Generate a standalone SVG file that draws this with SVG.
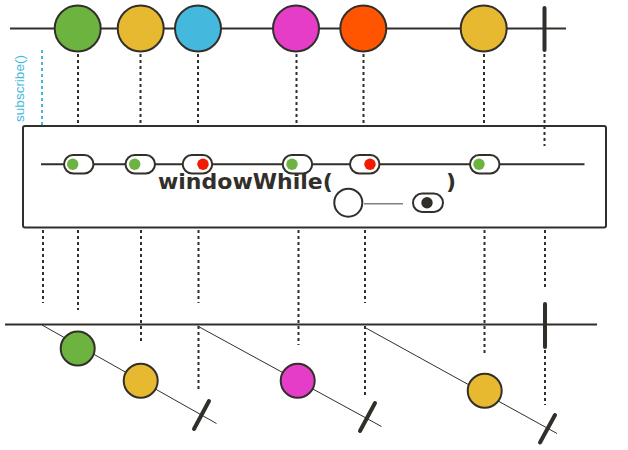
<svg xmlns="http://www.w3.org/2000/svg" width="628" height="450" viewBox="0 0 628 450">
<style>
.ln{stroke:#322f2b;stroke-width:2;fill:none}
.thin{stroke:#322f2b;stroke-width:1;fill:none}
.dash{stroke:#322f2b;stroke-width:2;stroke-dasharray:3 3;fill:none}
.term{stroke:#322f2b;stroke-width:4;stroke-linecap:round;fill:none}
.big{stroke:#322f2b;stroke-width:2}
.pill{fill:#fff;stroke:#322f2b;stroke-width:2}
.lbl{font-family:"DejaVu Sans",sans-serif;font-weight:bold;font-size:22px;fill:#322f2b}
</style>
<rect width="628" height="450" fill="#fff"/>
<g id="connectors">
  <line class="ln" x1="10" y1="28.5" x2="566" y2="28.5"/>
  <line class="term" x1="544.5" y1="8" x2="544.5" y2="50"/>
  <line x1="42" y1="50" x2="42" y2="125" stroke="#45b8de" stroke-width="2" stroke-dasharray="3 3"/>
  <line class="dash" x1="78" y1="54" x2="78" y2="126"/>
  <line class="dash" x1="140.5" y1="54" x2="140.5" y2="126"/>
  <line class="dash" x1="198" y1="54" x2="198" y2="126"/>
  <line class="dash" x1="296.5" y1="54" x2="296.5" y2="126"/>
  <line class="dash" x1="363.5" y1="54" x2="363.5" y2="126"/>
  <line class="dash" x1="484" y1="54" x2="484" y2="126"/>
  <line class="dash" x1="544.5" y1="54" x2="544.5" y2="146"/>
  <line class="dash" x1="43" y1="230" x2="43" y2="303"/>
  <line class="dash" x1="78" y1="230" x2="78" y2="310"/>
  <line class="dash" x1="141" y1="230" x2="141" y2="343"/>
  <line class="dash" x1="198.5" y1="230" x2="198.5" y2="303"/>
  <line class="dash" x1="198.5" y1="326" x2="198.5" y2="390"/>
  <line class="dash" x1="298.5" y1="230" x2="298.5" y2="345"/>
  <line class="dash" x1="365" y1="230" x2="365" y2="303"/>
  <line class="dash" x1="365" y1="326" x2="365" y2="397"/>
  <line class="dash" x1="484.5" y1="230" x2="484.5" y2="353"/>
  <line class="dash" x1="545" y1="230" x2="545" y2="287"/>
  <line class="dash" x1="545" y1="350" x2="545" y2="405"/>
  <line class="ln" x1="5" y1="324.5" x2="597" y2="324.5"/>
  <line class="term" x1="545" y1="304" x2="545" y2="347"/>
  <line class="thin" x1="42" y1="325" x2="216.5" y2="423.5"/>
  <line class="thin" x1="197.5" y1="326" x2="381.5" y2="426.5"/>
  <line class="thin" x1="365" y1="327.5" x2="557" y2="433.5"/>
  <line class="term" x1="194" y1="429" x2="209" y2="401"/>
  <line class="term" x1="360" y1="431" x2="375" y2="403"/>
  <line class="term" x1="540" y1="442.5" x2="555" y2="415"/>
</g>
<g id="source">
  <circle class="big" cx="77.7" cy="28.5" r="23" fill="#6db33f"/>
  <circle class="big" cx="140.7" cy="28.5" r="23" fill="#e6b930"/>
  <circle class="big" cx="198" cy="28.5" r="23" fill="#45b8de"/>
  <circle class="big" cx="296" cy="28.5" r="23" fill="#e63dc8"/>
  <circle class="big" cx="363.3" cy="28.5" r="23" fill="#ff5500"/>
  <circle class="big" cx="483.7" cy="28.5" r="23" fill="#e6b930"/>
</g>
<g id="subscribe">
  <text transform="translate(23.5,88.5) rotate(-90)" text-anchor="middle" font-family="Liberation Sans, Arial, sans-serif" font-size="13.5" fill="#45b8de">subscribe()</text>
</g>
<g id="operator">
  <rect x="23" y="126" width="583" height="101.5" rx="2" class="ln" fill="#fff"/>
  <line class="ln" x1="41" y1="164.3" x2="584.5" y2="164.3"/>
  <rect class="pill" x="64" y="155" width="29.5" height="18.5" rx="9.25"/>
  <circle cx="72.7" cy="164.3" r="5.7" fill="#6db33f"/>
  <rect class="pill" x="125.5" y="155" width="29.5" height="18.5" rx="9.25"/>
  <circle cx="134.7" cy="164.3" r="5.7" fill="#6db33f"/>
  <rect class="pill" x="182.7" y="155" width="29.5" height="18.5" rx="9.25"/>
  <circle cx="203" cy="164.3" r="5.7" fill="#f21a00"/>
  <rect class="pill" x="282.7" y="155" width="29.5" height="18.5" rx="9.25"/>
  <circle cx="292" cy="164.3" r="5.7" fill="#6db33f"/>
  <rect class="pill" x="350" y="155" width="29.5" height="18.5" rx="9.25"/>
  <circle cx="370" cy="164.3" r="5.7" fill="#f21a00"/>
  <rect class="pill" x="470" y="155" width="29.5" height="18.5" rx="9.25"/>
  <circle cx="479" cy="164.3" r="5.7" fill="#6db33f"/>
  <text class="lbl" x="158" y="188.5">windowWhile(</text>
  <text class="lbl" x="446" y="188.5">)</text>
  <circle cx="348.3" cy="202.7" r="14" fill="#fff" stroke="#322f2b" stroke-width="2"/>
  <line x1="364" y1="203.7" x2="403" y2="203.7" stroke="#808080" stroke-width="1.5"/>
  <rect class="pill" x="413" y="193.5" width="30" height="18.5" rx="9.25"/>
  <circle cx="427" cy="202.7" r="5.7" fill="#322f2b"/>
</g>
<g id="window1">
  <circle class="big" cx="77.7" cy="348.5" r="17" fill="#6db33f"/>
  <circle class="big" cx="140.7" cy="380.7" r="17" fill="#e6b930"/>
</g>
<g id="window2">
  <circle class="big" cx="297.7" cy="380.7" r="17" fill="#e63dc8"/>
</g>
<g id="window3">
  <circle class="big" cx="484.7" cy="390.7" r="17" fill="#e6b930"/>
</g>
</svg>
